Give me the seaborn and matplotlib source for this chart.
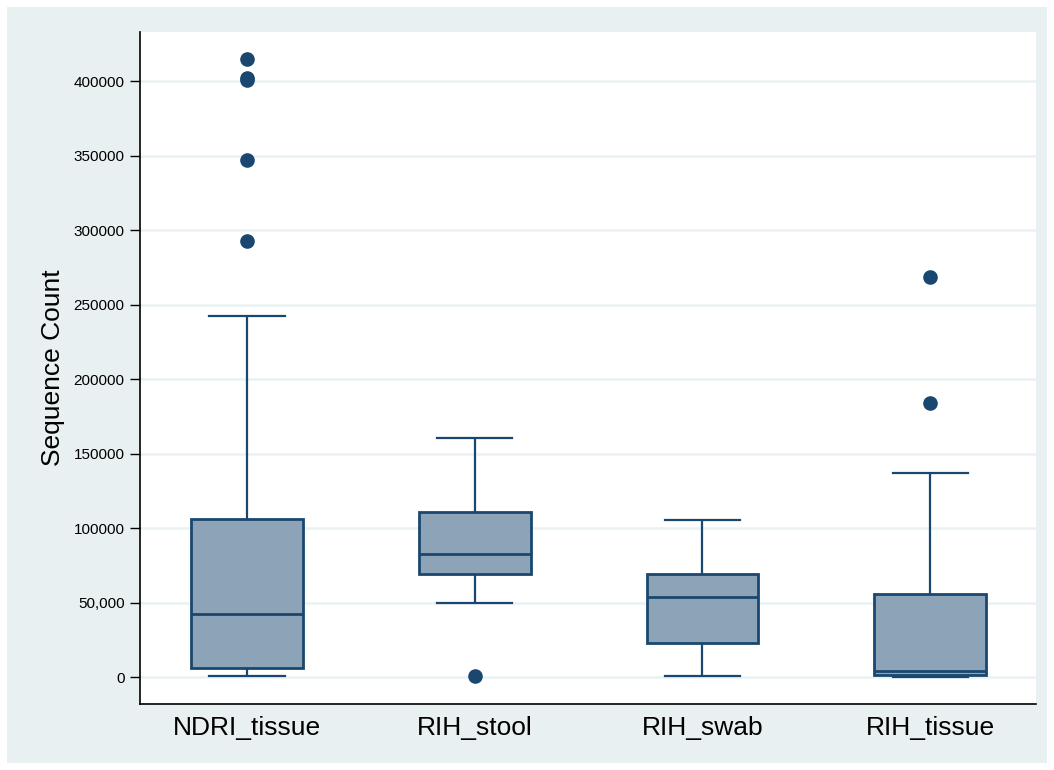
import matplotlib
matplotlib.use("Agg")
import matplotlib.pyplot as plt
from matplotlib.patches import Rectangle
import seaborn as sns
import pandas as pd

# groups and (estimated) sequence counts per sample
groups = ["NDRI_tissue", "RIH_stool", "RIH_swab", "RIH_tissue"]
ndri_tissue = [700, 1200, 2000, 3000, 4100, 5200, 6000, 9000, 14000, 21000, 28000, 35500,
               42300, 51000, 60000, 72000, 84000, 97000, 106000, 242300,
               292600, 347000, 400650, 402000, 414700]
rih_stool = [700, 49700, 61000, 69100, 74000, 79000, 82500, 90000, 101000, 110700,
             125000, 142000, 160400]
rih_swab = [700, 8000, 15000, 22800, 35000, 46000, 53700, 58000, 64000, 69100,
            80000, 93000, 105400]
rih_tissue = [300, 600, 900, 1100, 1300, 2000, 2800, 3500, 4000, 12000, 25000, 40000,
              55700, 90000, 136900, 183900, 268400]

ytick_vals = [0, 50000, 100000, 150000, 200000, 250000, 300000, 350000, 400000]
ytick_labels = ["0", "50,000", "100000", "150000", "200000", "250000", "300000", "350000", "400000"]

df = pd.DataFrame({
    "group": [groups[0]] * len(ndri_tissue) + [groups[1]] * len(rih_stool)
             + [groups[2]] * len(rih_swab) + [groups[3]] * len(rih_tissue),
    "count": ndri_tissue + rih_stool + rih_swab + rih_tissue,
})

navy = "#1A476F"
fill = "#8DA3B7"
bg = "#E9F0F2"

plt.rcParams["font.family"] = ["Liberation Sans", "DejaVu Sans"]

fig = plt.figure(figsize=(10.54, 7.70), dpi=100, facecolor="white")
fig.patches.append(Rectangle((7 / 1054, 7 / 770), 1040 / 1054, 756 / 770,
                             transform=fig.transFigure, facecolor=bg, edgecolor="none", zorder=-10))
ax = fig.add_axes([140 / 1054, 1 - 704 / 770, 896 / 1054, 672 / 770])
ax.set_facecolor("white")

sns.boxplot(data=df, x="group", y="count", order=groups, ax=ax, width=0.49, whis=1.5,
            color=fill, linecolor=navy, linewidth=2,
            boxprops=dict(facecolor=fill, edgecolor=navy, linewidth=2.0),
            medianprops=dict(color=navy, linewidth=2.0),
            whiskerprops=dict(color=navy, linewidth=1.6),
            capprops=dict(color=navy, linewidth=1.6),
            flierprops=dict(marker="o", markerfacecolor=navy, markeredgecolor=navy, markersize=9.5),
            capwidths=0.33)

ax.set_xlim(-0.47, 3.465)
ax.set_ylim(-18100, 432900)
ax.set_yticks(ytick_vals)
ax.set_yticklabels(ytick_labels, fontsize=11)
ax.yaxis.grid(True, color="#EAF2F3", linewidth=1.8)
ax.set_axisbelow(True)
ax.tick_params(axis="y", length=7, width=1, pad=4)
ax.tick_params(axis="x", length=0, pad=9, labelsize=19)
ax.set_xlabel("")
ax.set_ylabel("Sequence Count", fontsize=19, labelpad=6)

for s in ["top", "right"]:
    ax.spines[s].set_visible(False)
for s in ["left", "bottom"]:
    ax.spines[s].set_color("black")
    ax.spines[s].set_linewidth(1.2)

fig.savefig("out.png", dpi=100, facecolor="white")
